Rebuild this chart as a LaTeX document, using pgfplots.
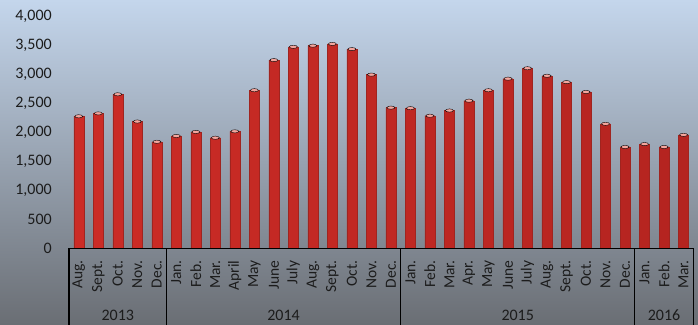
\documentclass[border=0pt]{standalone}
\usepackage{pgfplots}
\pgfplotsset{compat=1.18}
\usepackage{pgfplotstable}
\usepackage{fontspec}
\setmainfont{Carlito}

\definecolor{bgTop}{HTML}{C4D6EC}
\definecolor{bgMid}{HTML}{A7B4C4}
\definecolor{bgBot}{HTML}{6A6E74}
\definecolor{barLeft}{HTML}{CC2C26}
\definecolor{barLight}{HTML}{EE4A40}
\definecolor{barRight}{HTML}{B42420}
\definecolor{barEdge}{HTML}{A0241F}
\definecolor{barCap}{HTML}{F5A59D}
\definecolor{txt}{HTML}{1C1C1C}

% monthly values, Aug. 2013 - Mar. 2016
\pgfplotstableread{
idx value
0  2280
1  2330
2  2660
3  2190
4  1840
5  1940
6  2010
7  1910
8  2020
9  2730
10 3250
11 3480
12 3500
13 3530
14 3440
15 3000
16 2430
17 2420
18 2290
19 2380
20 2550
21 2730
22 2930
23 3110
24 2980
25 2870
26 2700
27 2150
28 1750
29 1800
30 1750
31 1960
}\monthly

\begin{document}
\begin{tikzpicture}
% backdrop
\shade[top color=bgTop, middle color=bgMid, bottom color=bgBot] (0pt,0pt) rectangle (698pt,324pt);
\path[use as bounding box] (0pt,0pt) rectangle (698pt,324pt);
\begin{axis}[
  at={(69pt,75.7pt)}, anchor=south west,
  scale only axis, width=624.3pt, height=231.6pt,
  xmin=-0.5, xmax=31.5, ymin=0, ymax=4000,
  axis line style={draw=none},
  major tick length=0pt,
  clip=false,
  ytick={0,500,...,4000},
  yticklabel style={anchor=east, inner sep=0pt, xshift=-17pt,
    font=\fontsize{16}{19}\selectfont, text=txt},
  /pgf/number format/.cd, 1000 sep={,}, assume math mode=true,
  /pgfplots/.cd,
  xtick=data,
  xticklabels={Aug.,Sept.,Oct.,Nov.,Dec.,Jan.,Feb.,Mar.,April,May,June,July,Aug.,Sept.,Oct.,Nov.,Dec.,Jan.,Feb.,Mar.,Apr.,May,June,July,Aug.,Sept.,Oct.,Nov.,Dec.,Jan.,Feb.,Mar.},
  xticklabel style={rotate=90, anchor=east, inner sep=0pt,
    font=\fontsize{15.5}{18}\selectfont, text=txt},
  xticklabel shift={12pt},
]
\addplot[ybar, bar width=10pt, bar shift=0pt,
  left color=barLeft, middle color=barLight, right color=barRight,
  draw=barEdge, line width=0.3pt] table[x=idx, y=value] {\monthly};
\addplot[only marks, mark=*, mark size=4pt,
  mark options={fill=barCap, draw=none, yscale=0.4}]
  table[x=idx, y=value] {\monthly};

% group frame under the axis
\draw[black, line width=1pt] (axis cs:-0.5,0) -- (axis cs:31.5,0);
\pgfplotsinvokeforeach{-0.5,4.5,16.5,28.5,31.5}{
  \draw[black, line width=1pt] (axis cs:#1,0) -- ++(0pt,-80pt);
}
\node[anchor=base, inner sep=0pt, text=txt, font=\fontsize{16}{19}\selectfont]
  at (axis cs:2,0) [yshift=-72.5pt] {2013};
\node[anchor=base, inner sep=0pt, text=txt, font=\fontsize{16}{19}\selectfont]
  at (axis cs:10.5,0) [yshift=-72.5pt] {2014};
\node[anchor=base, inner sep=0pt, text=txt, font=\fontsize{16}{19}\selectfont]
  at (axis cs:22.5,0) [yshift=-72.5pt] {2015};
\node[anchor=base, inner sep=0pt, text=txt, font=\fontsize{16}{19}\selectfont]
  at (axis cs:30,0) [yshift=-72.5pt] {2016};
\end{axis}
\end{tikzpicture}
\end{document}
